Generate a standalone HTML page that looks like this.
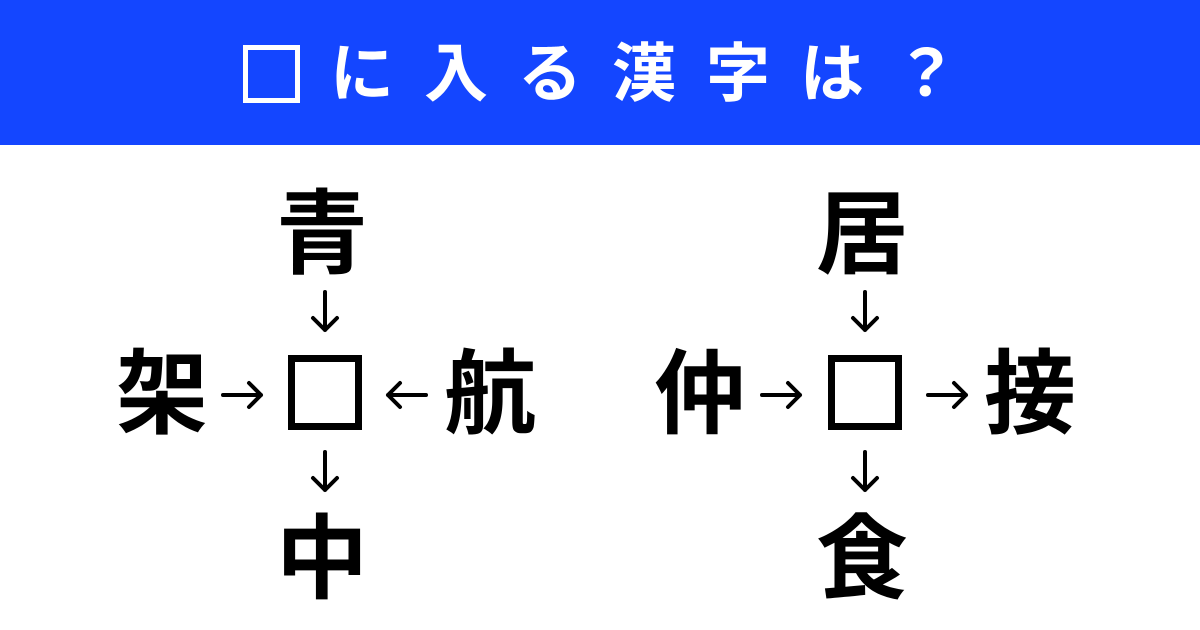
<!DOCTYPE html>
<html><head><meta charset="utf-8"><style>
body{margin:0;width:1200px;height:630px;background:#fff;position:relative;overflow:hidden;font-family:"Liberation Sans","Noto Sans CJK JP",sans-serif}
.hd{position:absolute;left:0;top:0;width:1200px;height:145px;background:#1446ff}
.tb{position:absolute;left:243px;top:45px;width:47px;height:48px;border:5px solid #fff}
.c{position:absolute;top:34px;width:100px;margin-left:-50px;text-align:center;color:#fff;font-size:64px;font-weight:bold;line-height:80px}
.k{position:absolute;width:120px;text-align:center;font-size:92px;font-weight:bold;line-height:100px;color:#000}
.box{position:absolute;width:60px;height:61px;border:7px solid #000}
svg{position:absolute;left:0;top:0}
</style></head><body>
<div class="hd"></div>
<div class="tb"></div>
<div class="c" style="left:362px">に</div>
<div class="c" style="left:456px">入</div>
<div class="c" style="left:550px">る</div>
<div class="c" style="left:644px">漢</div>
<div class="c" style="left:738px">字</div>
<div class="c" style="left:832px">は</div>
<div class="c" style="left:926px">？</div>
<div class="k" style="left:262px;top:185px">青</div>
<div class="k" style="left:102px;top:345px">架</div>
<div class="k" style="left:430px;top:345px">航</div>
<div class="k" style="left:262px;top:510px">中</div>
<div class="box" style="left:288px;top:355px"></div>
<div class="k" style="left:802px;top:185px">居</div>
<div class="k" style="left:640px;top:345px">仲</div>
<div class="k" style="left:970px;top:345px">接</div>
<div class="k" style="left:802px;top:510px">食</div>
<div class="box" style="left:828px;top:355px"></div>
<svg width="1200" height="630" fill="none" stroke="#000" stroke-width="4" stroke-linecap="round" stroke-linejoin="round">
<path d="M325 292V330M313 318L325 330L337 318"/>
<path d="M325 452V490M313 478L325 490L337 478"/>
<path d="M223 395H261M249 383L261 395L249 407"/>
<path d="M426 395H388M400 383L388 395L400 407"/>
<path d="M865 292V330M853 318L865 330L877 318"/>
<path d="M865 452V490M853 478L865 490L877 478"/>
<path d="M762 395H800M788 383L800 395L788 407"/>
<path d="M928 395H966M954 383L966 395L954 407"/>
</svg>
</body></html>
